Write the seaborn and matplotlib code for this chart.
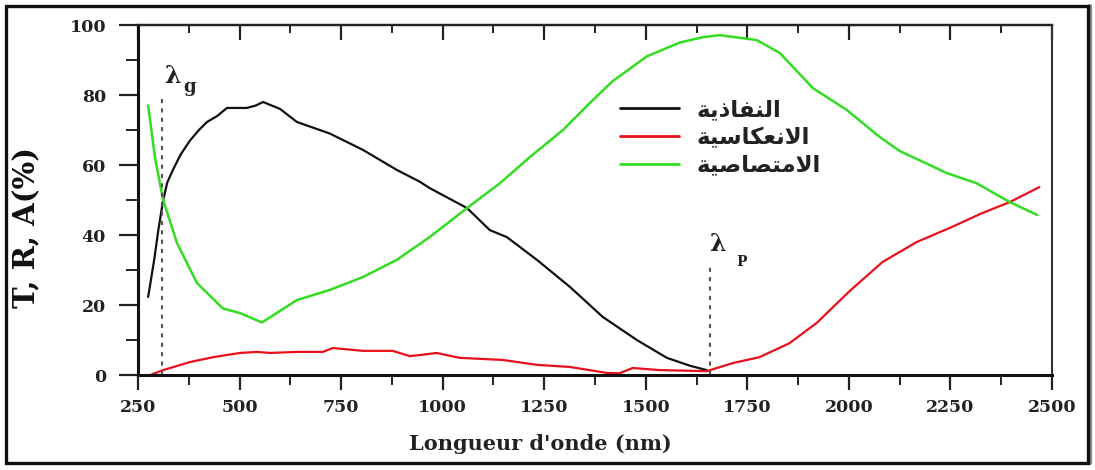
import matplotlib
matplotlib.use("Agg")
import matplotlib.pyplot as plt
import seaborn as sns
import pandas as pd
from matplotlib.ticker import MultipleLocator
from matplotlib.patches import Rectangle
from matplotlib.lines import Line2D

# ---------------- data ----------------
wl_T = [275, 290, 300, 312, 322, 336, 355, 378, 400, 420, 445, 469, 518, 540, 558,
        600, 641, 722, 804, 887, 944, 968, 1060, 1116, 1158, 1232, 1313, 1394, 1478,
        1552, 1610, 1650]
T = [22.3, 33, 41.4, 50, 55, 58.6, 63, 67, 70, 72.3, 74, 76.3, 76.3, 77, 78,
     76, 72.3, 69, 64.3, 58.6, 55.2, 53.4, 47.7, 41.4, 39.4, 32.9, 25.2, 16.6, 10,
     4.9, 2.6, 1.4]

wl_R = [280, 312, 378, 435, 501, 543, 575, 641, 705, 730, 804, 877, 919, 944, 985,
        1042, 1148, 1232, 1313, 1404, 1435, 1468, 1534, 1650, 1714, 1780, 1854, 1921,
        2002, 2083, 2167, 2248, 2329, 2396, 2469]
R = [0, 1.4, 3.7, 5.1, 6.3, 6.6, 6.3, 6.6, 6.6, 7.7, 6.9, 6.9, 5.4, 5.7, 6.3,
     4.9, 4.3, 2.9, 2.3, 0.6, 0.5, 2, 1.4, 1.1, 3.4, 5.1, 9.1, 14.9,
     24, 32.3, 38, 42, 46.3, 49.4, 53.7]

wl_A = [275, 292, 312, 346, 395, 459, 501, 555, 641, 722, 804, 887, 968, 1060, 1141,
        1215, 1296, 1370, 1419, 1502, 1584, 1640, 1682, 1773, 1830, 1911, 1995, 2076,
        2125, 2241, 2314, 2396, 2464]
A = [77, 62, 50, 37.7, 26.3, 19, 17.7, 15, 21.4, 24.3, 28, 32.9, 39.4, 47.7, 54.8,
     62.3, 70, 78.6, 84, 91, 95, 96.5, 97.1, 95.7, 92, 82, 75.7, 68,
     64, 57.7, 54.8, 49.4, 45.7]

# legend labels (Arabic; drawn with pre-shaped presentation forms in visual order)
label_T_logical = "النفاذية"
label_R_logical = "الانعكاسية"
label_A_logical = "الامتصاصية"
label_T = "\uFE94\uFEF3\uFEAB\uFE8E\uFED4\uFEE8\uFEDF\uFE8D"
label_R = "\uFE94\uFEF4\uFEB3\uFE8E\uFEDC\uFECC\uFEE7\uFEFB\uFE8D"
label_A = "\uFE94\uFEF4\uFEBB\uFE8E\uFEBC\uFE98\uFEE3\uFEFB\uFE8D"

x_ticks = [250, 500, 750, 1000, 1250, 1500, 1750, 2000, 2250, 2500]
y_ticks = [0, 20, 40, 60, 80, 100]
lambda_g = 310
lambda_p = 1657

# ---------------- figure ----------------
sns.set_theme(style="white")
plt.rcParams['font.family'] = ['DejaVu Serif']

fig = plt.figure(figsize=(10.95, 4.7), dpi=100)
ax = fig.add_axes([138/1095, 1 - 375/470, 914/1095, 350/470])

dfT = pd.DataFrame({"x": wl_T, "y": T})
dfR = pd.DataFrame({"x": wl_R, "y": R})
dfA = pd.DataFrame({"x": wl_A, "y": A})

sns.lineplot(data=dfT, x="x", y="y", ax=ax, color="#111111", lw=1.6,
             sort=False, estimator=None, label=label_T)
sns.lineplot(data=dfR, x="x", y="y", ax=ax, color="#e8101a", lw=1.6,
             sort=False, estimator=None, label=label_R)
sns.lineplot(data=dfA, x="x", y="y", ax=ax, color="#33dd22", lw=1.8,
             sort=False, estimator=None, label=label_A)

# dotted markers
ax.plot([lambda_g, lambda_g], [0, 79], ls=(0, (2, 2.5)), color="#555555", lw=1.5)
ax.plot([lambda_p, lambda_p], [0, 31], ls=(0, (2, 2.5)), color="#555555", lw=1.5)

ax.text(334, 85.5, "λ", fontsize=17, fontweight="bold", ha="center", va="center",
        color="#222222")
ax.text(377, 82.3, "g", fontsize=13, fontweight="bold", ha="center", va="center",
        color="#222222")
ax.text(1677, 37.5, "λ", fontsize=17, fontweight="bold", ha="center", va="center",
        color="#222222")
ax.text(1735, 32.2, "P", fontsize=10, fontweight="bold", ha="center", va="center",
        color="#222222")

ax.set_xlim(250, 2500)
ax.set_ylim(0, 100)
ax.set_xticks(x_ticks)
ax.set_yticks(y_ticks)
ax.xaxis.set_minor_locator(MultipleLocator(125))
ax.yaxis.set_minor_locator(MultipleLocator(10))

ax.tick_params(axis="y", which="major", direction="out", length=14, width=1.6,
               pad=9, labelsize=12.5, left=True, right=False, colors="#222222")
ax.tick_params(axis="y", which="minor", direction="out", length=8.5, width=1.4,
               left=True, right=False, colors="#222222")
ax.tick_params(axis="x", which="major", direction="out", length=11, width=1.6,
               pad=6, labelsize=12.5, bottom=True, top=False, colors="#222222")
ax.tick_params(axis="x", which="minor", direction="out", length=7, width=1.4,
               bottom=True, top=False, colors="#222222")
for lab in ax.get_xticklabels() + ax.get_yticklabels():
    lab.set_fontweight("bold")

sec = ax.secondary_xaxis("top")
sec.set_xticks(x_ticks)
sec.xaxis.set_minor_locator(MultipleLocator(125))
sec.tick_params(axis="x", which="major", direction="in", length=11, width=1.6,
                labeltop=False, colors="#222222")
sec.tick_params(axis="x", which="minor", direction="in", length=5.5, width=1.4,
                colors="#222222")
sec.spines["top"].set_linewidth(1.6)
sec.spines["top"].set_color("#222222")

for s in ["left", "bottom"]:
    ax.spines[s].set_linewidth(2.2)
    ax.spines[s].set_color("#111111")
ax.spines["top"].set_linewidth(1.6)
ax.spines["top"].set_color("#222222")
ax.spines["right"].set_linewidth(1.5)
ax.spines["right"].set_color("#333333")

ax.set_xlabel("Longueur d'onde (nm)", fontsize=15, fontweight="bold", color="#222222")
ax.set_ylabel("T, R, A(%)", fontsize=21, fontweight="bold", color="#111111")
ax.xaxis.set_label_coords(0.44, -0.168)
ax.yaxis.set_label_coords(-0.106, 0.42)

leg = ax.legend(loc="upper left", bbox_to_anchor=(0.527, 0.79), frameon=False,
                prop={"family": ["DejaVu Sans"], "weight": "bold", "size": 16.5},
                handlelength=2.6, handletextpad=0.75, labelspacing=0.2,
                borderaxespad=0, borderpad=0)
for t in leg.get_texts():
    t.set_color("#222222")
for h in leg.get_lines():
    h.set_linewidth(2.0)

# outer frame
fig.patches.append(Rectangle((6/1095, 7/470), 1082/1095, 457/470, transform=fig.transFigure,
                             fill=False, lw=2.4, edgecolor="#111111", zorder=10))
fig.lines.append(Line2D([1090/1095, 1090/1095], [7/470, 464/470], transform=fig.transFigure,
                        color="#888888", lw=3, zorder=9))

fig.savefig("out.png", dpi=100, facecolor="white")
